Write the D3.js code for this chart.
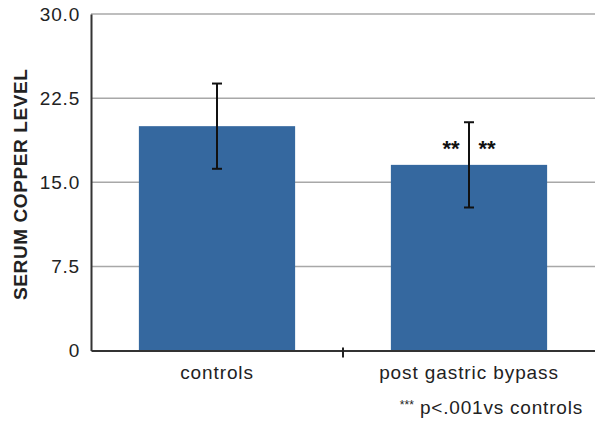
<!DOCTYPE html>
<html>
<head>
<meta charset="utf-8">
<script src="https://cdn.jsdelivr.net/npm/d3@7"></script>
<style>
  body { margin: 0; background: #fff; }
  svg text { font-family: "Liberation Sans", Arial, Helvetica, sans-serif; }
</style>
</head>
<body>
<div id="chart"></div>
<script>
// chart data
const categories = ['controls', 'post gastric bypass'];
const means = [20.0, 16.55];
const errors = [3.8, 3.8];
const yTicks = [0, 7.5, 15, 22.5, 30];
const yTickLabels = ['0', '7.5', '15.0', '22.5', '30.0'];
const marks = ['', '**'];

const width = 595, height = 421;
const margin = { top: 14, right: 0, bottom: 70, left: 91 };

const svg = d3.select('#chart').append('svg')
  .attr('width', width).attr('height', height);

const x = d3.scaleBand()
  .domain(categories)
  .range([margin.left, width - margin.right])
  .paddingInner(0.38).paddingOuter(0.19);

const y = d3.scaleLinear()
  .domain([0, 30])
  .range([height - margin.bottom - 0.5, margin.top]);

// gridlines
svg.append('g').selectAll('line')
  .data(yTicks.filter(d => d > 0))
  .enter().append('line')
  .attr('x1', margin.left).attr('x2', width)
  .attr('y1', d => y(d)).attr('y2', d => y(d))
  .attr('stroke', '#a8a8a8').attr('stroke-width', 1.5);

// bars
svg.append('g').selectAll('rect')
  .data(categories)
  .enter().append('rect')
  .attr('x', d => x(d))
  .attr('width', x.bandwidth())
  .attr('y', (d, i) => y(means[i]))
  .attr('height', (d, i) => y(0) - y(means[i]))
  .attr('fill', '#35689f');

// error bars + significance marks
const eb = svg.append('g').attr('stroke', '#111').attr('stroke-width', 2);
categories.forEach((c, i) => {
  const cx = x(c) + x.bandwidth() / 2;
  eb.append('line').attr('x1', cx).attr('x2', cx)
    .attr('y1', y(means[i] + errors[i])).attr('y2', y(means[i] - errors[i]));
  [means[i] + errors[i], means[i] - errors[i]].forEach(v => {
    eb.append('line').attr('x1', cx - 5).attr('x2', cx + 5)
      .attr('y1', y(v)).attr('y2', y(v));
  });
  if (marks[i]) {
    [-18, 18].forEach(off => {
      svg.append('text')
        .attr('x', cx + off).attr('y', y(means[i]) - 9)
        .attr('text-anchor', 'middle')
        .style('font-size', '22px').style('font-weight', 'bold')
        .attr('fill', '#111')
        .text(marks[i]);
    });
  }
});

// y axis
const yAxis = d3.axisLeft(y).tickValues(yTicks)
  .tickFormat((d, i) => yTickLabels[i]).tickSize(0).tickPadding(11);
const gy = svg.append('g')
  .attr('transform', `translate(${margin.left},0)`)
  .call(yAxis);
gy.select('.domain').attr('stroke', '#333').attr('stroke-width', 2);
gy.selectAll('text').style('font-size', '19px').style('letter-spacing', '0.8px').attr('fill', '#222');

// x axis
const gx = svg.append('g')
  .attr('transform', `translate(0,${y(0)})`)
  .call(d3.axisBottom(x).tickSize(0).tickPadding(15));
gx.select('.domain').attr('stroke', '#333').attr('stroke-width', 2);
gx.selectAll('text').style('font-size', '19px').style('letter-spacing', '0.9px').attr('fill', '#222');

// tick between categories
const midX = (x(categories[0]) + x.bandwidth() + x(categories[1])) / 2;
svg.append('line')
  .attr('x1', midX).attr('x2', midX)
  .attr('y1', y(0) - 3).attr('y2', y(0) + 7)
  .attr('stroke', '#222').attr('stroke-width', 2);

// axis title
svg.append('text')
  .attr('transform', `translate(27,${(y(0) + y(30)) / 2 + 2}) rotate(-90)`)
  .attr('text-anchor', 'middle')
  .style('font-size', '19px').style('font-weight', 'bold')
  .style('letter-spacing', '0.6px')
  .attr('fill', '#222')
  .text('SERUM COPPER LEVEL');

// footnote
const fn = svg.append('text')
  .attr('x', 583).attr('y', 414)
  .attr('text-anchor', 'end')
  .style('font-size', '19px').style('letter-spacing', '0.8px').attr('fill', '#222');
fn.append('tspan').style('font-size', '12px').style('letter-spacing', '0px').attr('dy', -5).text('***');
fn.append('tspan').attr('dy', 5).text(' p<.001vs controls');
</script>
</body>
</html>
